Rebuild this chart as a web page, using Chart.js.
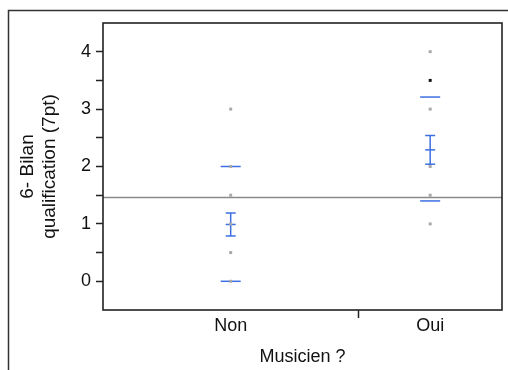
<!DOCTYPE html>
<html>
<head>
<meta charset="utf-8">
<script src="https://cdn.jsdelivr.net/npm/chart.js@4.4.0/dist/chart.umd.min.js"></script>
<style>
  html, body { margin: 0; padding: 0; background: #fff; }
  #wrap { width: 508px; height: 370px; }
</style>
</head>
<body>
<div id="wrap"><canvas id="chart" width="508" height="370"></canvas></div>
<script>
// ─── Data ───────────────────────────────────────────────────────────────
var categories = ['Non', 'Oui'];
var groupSizes = [16, 9];                 // band widths follow group size
var nonValues = [0, 0.5, 1, 1.5, 2, 3];
var ouiValues = [1, 1.5, 2, 3, 4];
var ouiHighlight = [3.5];
var groupMeans = [0.99, 2.29];
var errLow = [0.79, 2.04];
var errHigh = [1.19, 2.54];
var sdLow = [0.0, 1.40];
var sdHigh = [2.0, 3.21];
var grandMean = 1.46;
var yTicks = [0, 0.5, 1, 1.5, 2, 2.5, 3, 3.5, 4];

// Colors
var blue = '#3d6fe3';
var pointGray = '#a8a8a8';
var lineGray = '#8a8a8a';
var ink = '#222';

// band centres / dividers on a linear x scale
var total = 0, centers = [], dividers = [];
groupSizes.forEach(function (n, i) {
    centers.push(total + n / 2);
    total += n;
    if (i < groupSizes.length - 1) dividers.push(total);
});

function pts(values, i) {
    return values.map(function (v) { return { x: centers[i], y: v }; });
}

var grayPts = pts(nonValues, 0).concat(pts(ouiValues, 1));
var blackPts = pts(ouiHighlight, 1);
var sdPts = [], capPts = [], errLines = [];
categories.forEach(function (c, i) {
    sdPts.push({ x: centers[i], y: sdLow[i] }, { x: centers[i], y: sdHigh[i] });
    capPts.push({ x: centers[i], y: errLow[i] }, { x: centers[i], y: errHigh[i] },
                { x: centers[i], y: groupMeans[i] });
    errLines.push({
        data: [{ x: centers[i], y: errLow[i] }, { x: centers[i], y: errHigh[i] }],
        showLine: true, borderColor: blue, borderWidth: 1.5, pointRadius: 0
    });
});

Chart.defaults.font.family = '"Liberation Sans", Arial, sans-serif';
Chart.defaults.font.size = 18;
Chart.defaults.color = '#111';

var framePlugin = {
    id: 'frame',
    beforeDraw: function (chart) {
        var ctx = chart.ctx;
        ctx.save();
        ctx.strokeStyle = '#333';
        ctx.lineWidth = 1.5;
        ctx.beginPath();
        ctx.moveTo(8.5, 370);
        ctx.lineTo(8.5, 10.5);
        ctx.lineTo(508, 10.5);
        ctx.stroke();
        ctx.restore();
    },
    afterDatasetsDraw: function (chart) {
        var a = chart.chartArea, ctx = chart.ctx;
        ctx.save();
        ctx.strokeStyle = ink;
        ctx.lineWidth = 1.6;
        ctx.strokeRect(a.left, a.top, a.right - a.left, a.bottom - a.top);
        ctx.restore();
    }
};

new Chart(document.getElementById('chart').getContext('2d'), {
    type: 'scatter',
    data: {
        datasets: [
            { data: grayPts, pointStyle: 'rect', pointRadius: 2.1, borderWidth: 0,
              backgroundColor: pointGray },
            { data: blackPts, pointStyle: 'rect', pointRadius: 2.1, borderWidth: 0,
              backgroundColor: '#111' },
            { data: sdPts, pointStyle: 'line', pointRadius: 10, borderWidth: 1.5,
              borderColor: blue },
            { data: capPts, pointStyle: 'line', pointRadius: 5, borderWidth: 1.5,
              borderColor: blue }
        ].concat(errLines).concat([
            { data: [{ x: 0, y: grandMean }, { x: total, y: grandMean }],
              showLine: true, borderColor: lineGray, borderWidth: 1.5, pointRadius: 0 }
        ])
    },
    options: {
        responsive: false,
        animation: false,
        layout: { autoPadding: false, padding: { left: 10, top: 23, right: 6, bottom: 0 } },
        plugins: { legend: { display: false }, tooltip: { enabled: false } },
        scales: {
            x: {
                type: 'linear',
                min: 0,
                max: total,
                afterBuildTicks: function (scale) {
                    var t = centers.concat(dividers).sort(function (a, b) { return a - b; });
                    scale.ticks = t.map(function (v) { return { value: v }; });
                },
                afterFit: function (scale) { scale.height = 60; },
                border: { display: false },
                grid: {
                    drawOnChartArea: false,
                    tickLength: 8,
                    tickWidth: 1.5,
                    tickColor: function (c) {
                        return c.tick && dividers.indexOf(c.tick.value) >= 0 ? ink : 'rgba(0,0,0,0)';
                    }
                },
                ticks: {
                    autoSkip: false,
                    maxRotation: 0,
                    padding: -3,
                    callback: function (v) {
                        var i = centers.indexOf(v);
                        return i >= 0 ? categories[i] : '';
                    }
                },
                title: { display: true, text: 'Musicien ?', padding: { top: 0, bottom: 2 } }
            },
            y: {
                min: -0.5,
                max: 4.5,
                afterBuildTicks: function (scale) {
                    scale.ticks = yTicks.map(function (v) { return { value: v }; });
                },
                afterFit: function (scale) { scale.width = 93; },
                border: { display: false },
                grid: { drawOnChartArea: false, tickLength: 7, tickWidth: 1.5, tickColor: ink },
                ticks: {
                    padding: 5,
                    callback: function (v) { return v % 1 === 0 ? String(v) : ''; }
                },
                title: {
                    display: true,
                    text: ['6- Bilan', 'qualification (7pt)'],
                    font: { size: 19 },
                    padding: { top: 6, bottom: 0 }
                }
            }
        }
    },
    plugins: [framePlugin]
});
</script>
</body>
</html>
